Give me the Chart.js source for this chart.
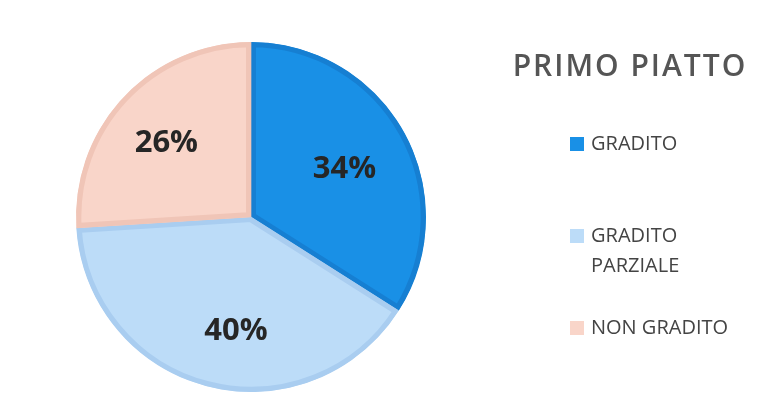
<!DOCTYPE html>
<html>
<head>
<meta charset="utf-8">
<script src="https://cdn.jsdelivr.net/npm/chart.js@4/dist/chart.umd.min.js"></script>
<style>
  html, body { margin: 0; padding: 0; background: #ffffff; }
  #wrap { position: relative; width: 782px; height: 403px; }
</style>
</head>
<body>
<div id="wrap"><canvas id="c" width="782" height="403"></canvas></div>
<script>
// Survey results: first course ("primo piatto")
const chartTitle = 'PRIMO PIATTO';
const categories = ['GRADITO', 'GRADITO PARZIALE', 'NON GRADITO'];
const legendLines = [['GRADITO'], ['GRADITO', 'PARZIALE'], ['NON GRADITO']];
const percentages = [34, 40, 26];

const fillColors = ['#1990e6', '#bcdcf8', '#f9d5c9'];
const edgeColors = ['#167fd2', '#a9cdf0', '#f0c5b7'];

// Percent labels placed inside each slice
const sliceLabels = {
  id: 'sliceLabels',
  afterDatasetsDraw(chart, args, opts) {
    const ctx = chart.ctx;
    const meta = chart.getDatasetMeta(0);
    ctx.save();
    ctx.font = 'bold 31px "Open Sans", sans-serif';
    ctx.fillStyle = '#262626';
    ctx.textAlign = 'center';
    ctx.textBaseline = 'middle';
    meta.data.forEach((arc, i) => {
      const p = arc.getProps(['x', 'y', 'startAngle', 'endAngle', 'outerRadius'], true);
      const mid = (p.startAngle + p.endAngle) / 2 + (opts.angleShift[i] || 0);
      const r = p.outerRadius * opts.radiusFactor[i];
      ctx.fillText(chart.data.datasets[0].data[i] + '%', p.x + Math.cos(mid) * r, p.y + Math.sin(mid) * r);
    });
    ctx.restore();
  }
};

// Title and legend at the right of the pie
const sideLegend = {
  id: 'sideLegend',
  afterDraw(chart, args, opts) {
    const ctx = chart.ctx;
    ctx.save();
    ctx.fillStyle = '#555555';
    ctx.font = '600 30px "Open Sans", sans-serif';
    ctx.textAlign = 'center';
    ctx.textBaseline = 'middle';
    if ('letterSpacing' in ctx) ctx.letterSpacing = '2px';
    ctx.fillText(chartTitle, opts.titleX, opts.titleY);
    if ('letterSpacing' in ctx) ctx.letterSpacing = '0px';

    ctx.font = '20px "Open Sans", sans-serif';
    ctx.textAlign = 'left';
    const ds = chart.data.datasets[0];
    legendLines.forEach((lines, i) => {
      const y = opts.firstY + i * opts.step;
      ctx.fillStyle = ds.backgroundColor[i];
      ctx.fillRect(opts.boxX, y - 7, 14, 14);
      ctx.fillStyle = '#444444';
      lines.forEach((t, j) => ctx.fillText(t, opts.textX, y + j * 30));
    });
    ctx.restore();
  }
};

new Chart(document.getElementById('c'), {
  type: 'pie',
  data: {
    labels: categories,
    datasets: [{
      data: percentages,
      backgroundColor: fillColors,
      borderColor: edgeColors,
      borderWidth: 5,
      borderAlign: 'inner'
    }]
  },
  options: {
    responsive: false,
    animation: false,
    events: [],
    layout: { padding: { left: 76, right: 356, top: 42, bottom: 11 } },
    plugins: {
      legend: { display: false },
      title: { display: false },
      tooltip: { enabled: false },
      sliceLabels: { radiusFactor: [0.6, 0.66, 0.64], angleShift: [0.03, -0.12, -0.04] },
      sideLegend: { titleX: 630, titleY: 67, boxX: 570, textX: 591, firstY: 144, step: 92 }
    }
  },
  plugins: [sliceLabels, sideLegend]
});
</script>
</body>
</html>
